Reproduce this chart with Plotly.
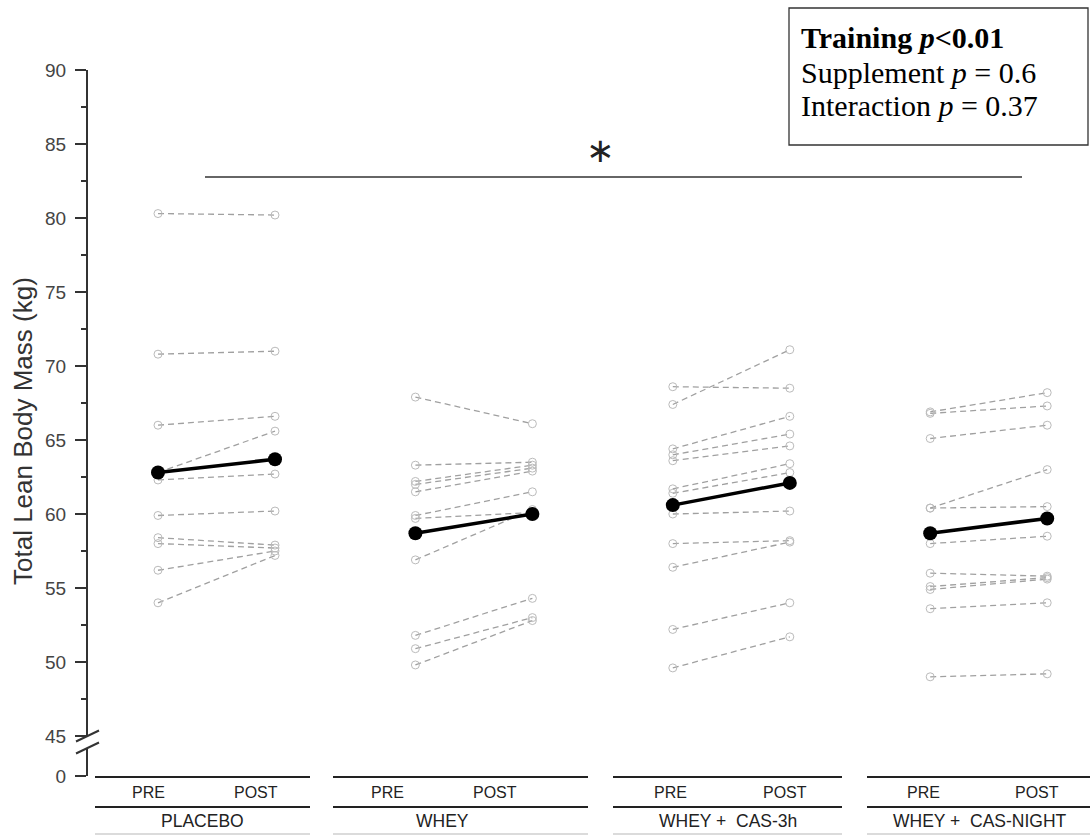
import plotly.graph_objects as go

# ---------------- data ----------------
groups = ["PLACEBO", "WHEY", "WHEY +  CAS-3h", "WHEY +  CAS-NIGHT"]
times = ["PRE", "POST"]

placebo_pre = [80.3, 70.8, 66.0, 62.8, 62.3, 59.9, 58.4, 58.0, 56.2, 54.0]
placebo_post = [80.2, 71.0, 66.6, 65.6, 62.7, 60.2, 57.9, 57.7, 57.5, 57.2]
whey_pre = [67.9, 63.3, 62.2, 62.0, 61.5, 59.9, 59.7, 56.9, 51.8, 50.9, 49.8]
whey_post = [66.1, 63.5, 63.3, 63.1, 62.9, 61.5, 60.1, 60.3, 54.3, 53.0, 52.8]
cas3h_pre = [67.4, 68.6, 64.4, 64.0, 63.6, 61.7, 61.4, 60.0, 58.0, 56.4, 52.2, 49.6]
cas3h_post = [71.1, 68.5, 66.6, 65.4, 64.6, 63.4, 62.8, 60.2, 58.2, 58.1, 54.0, 51.7]
casn_pre = [66.9, 66.8, 65.1, 60.4, 60.4, 58.0, 56.0, 55.1, 54.9, 53.6, 49.0]
casn_post = [68.2, 67.3, 66.0, 63.0, 60.5, 58.5, 55.8, 55.7, 55.6, 54.0, 49.2]

mean_pre = [62.8, 58.7, 60.6, 58.7]
mean_post = [63.7, 60.0, 62.1, 59.7]

ytick_values = [0, 45, 50, 55, 60, 65, 70, 75, 80, 85, 90]
ytick_labels = ["0", "45", "50", "55", "60", "65", "70", "75", "80", "85", "90"]
yminor_values = [47.5, 52.5, 57.5, 62.5, 67.5, 72.5, 77.5, 82.5, 87.5]

stats_lines = [
    "<b>Training <i>p</i>&lt;0.01</b>",
    "Supplement <i>p</i> = 0.6",
    "Interaction <i>p</i> = 0.37",
]

# ---------------- layout geometry ----------------
W, H = 1090, 836
ML = 87
PXK = 14.8          # pixels per kg
Y90_PX = 70         # pixel row of the 90 tick
X0_PX = 158         # pixel column of the first PRE
XU = 117            # pixels per x unit
GROUP_STEP = 2.2    # x units between groups
ZERO_POS = 45 - 40 / PXK  # broken axis: "0" drawn 40 px below 45


def y_of_px(py):
    return 90 - (py - Y90_PX) / PXK


def x_of_px(px):
    return (px - X0_PX) / XU


def xpaper(px):
    return (px - ML) / (W - ML)


def ypaper(py):
    return (H - py) / H


yr_top = y_of_px(0)
yr_bot = y_of_px(H)
xr = [x_of_px(ML), x_of_px(W)]

ind_pre = [placebo_pre, whey_pre, cas3h_pre, casn_pre]
ind_post = [placebo_post, whey_post, cas3h_post, casn_post]

fig = go.Figure()

for g in range(len(groups)):
    xp = g * GROUP_STEP
    xs, ys = [], []
    for a, b in zip(ind_pre[g], ind_post[g]):
        xs += [xp, xp + 1, None]
        ys += [a, b, None]
    fig.add_trace(go.Scatter(
        x=xs, y=ys, mode="lines+markers",
        line=dict(color="#a0a0a0", width=1.3, dash="6px,4px"),
        marker=dict(symbol="circle-open", size=8, color="#bbbbbb",
                    line=dict(width=1)),
        hoverinfo="skip", showlegend=False))

for g in range(len(groups)):
    xp = g * GROUP_STEP
    fig.add_trace(go.Scatter(
        x=[xp, xp + 1], y=[mean_pre[g], mean_post[g]],
        mode="lines+markers",
        line=dict(color="black", width=3.5),
        marker=dict(symbol="circle", size=14, color="black"),
        showlegend=False))

shapes = []
ax_col = "#333333"
# y axis line with break
shapes.append(dict(type="line", xref="paper", yref="y", x0=0, x1=0,
                   y0=90, y1=45, line=dict(color=ax_col, width=2)))
brk2 = y_of_px(748)
shapes.append(dict(type="line", xref="paper", yref="y", x0=0, x1=0,
                   y0=brk2, y1=ZERO_POS, line=dict(color=ax_col, width=2)))
for cy in [45, brk2]:
    d = 5.5 / PXK
    shapes.append(dict(type="line", xref="paper", yref="y",
                       x0=xpaper(76), x1=xpaper(99), y0=cy - d, y1=cy + d,
                       line=dict(color=ax_col, width=2)))

# category bars below the plot
group_bar_px = [(95, 310), (333, 588), (613, 842), (867, 1092)]
pre_label_px = [148, 387, 670, 923]
post_label_px = [256, 495, 785, 1037]
group_label_px = [202, 442, 728, 980]
for (a, b) in group_bar_px:
    for py, col, wd in [(777, "#222222", 2.2), (807, "#222222", 2.2), (834, "#cfcfcf", 1.5)]:
        shapes.append(dict(type="line", xref="x", yref="paper",
                           x0=x_of_px(a), x1=x_of_px(b), y0=ypaper(py), y1=ypaper(py),
                           line=dict(color=col, width=wd)))

# significance line
shapes.append(dict(type="line", xref="x", yref="y",
                   x0=x_of_px(205), x1=x_of_px(1022), y0=y_of_px(177), y1=y_of_px(177),
                   line=dict(color="#333333", width=1.5)))

# stats box
shapes.append(dict(type="rect", xref="paper", yref="paper",
                   x0=xpaper(789), x1=xpaper(1088), y0=ypaper(145), y1=ypaper(8),
                   line=dict(color="#333333", width=1.3), fillcolor="white"))

annotations = []
sans = "Liberation Sans, Arial, sans-serif"
serif = "Liberation Serif, Times New Roman, serif"
for g in range(len(groups)):
    annotations.append(dict(x=x_of_px(pre_label_px[g]), y=ypaper(792), xref="x", yref="paper",
                            text=times[0], showarrow=False, xanchor="center", yanchor="middle",
                            font=dict(family=sans, size=16, color="#222")))
    annotations.append(dict(x=x_of_px(post_label_px[g]), y=ypaper(792), xref="x", yref="paper",
                            text=times[1], showarrow=False, xanchor="center", yanchor="middle",
                            font=dict(family=sans, size=16, color="#222")))
    annotations.append(dict(x=x_of_px(group_label_px[g]), y=ypaper(821), xref="x", yref="paper",
                            text=groups[g], showarrow=False, xanchor="center", yanchor="middle",
                            font=dict(family=sans, size=17.5, color="#222")))

for i, (txt, py) in enumerate(zip(stats_lines, [38, 72, 105])):
    annotations.append(dict(x=xpaper(799), y=ypaper(py), xref="paper", yref="paper",
                            text=txt, showarrow=False, xanchor="left", yanchor="middle",
                            font=dict(family=serif, size=30, color="black")))

annotations.append(dict(x=x_of_px(600), y=y_of_px(150), xref="x", yref="y",
                        text="∗", showarrow=False, xanchor="center", yanchor="middle",
                        font=dict(family="DejaVu Sans", size=34, color="#222")))

annotations.append(dict(x=xpaper(23), y=y_of_px(431), xref="paper", yref="y",
                        text="Total Lean Body Mass (kg)", textangle=-90, showarrow=False,
                        xanchor="center", yanchor="middle",
                        font=dict(family=sans, size=26, color="#333")))

ytick_pos = [ZERO_POS if v == 0 else v for v in ytick_values]

fig.update_layout(
    width=W, height=H,
    margin=dict(l=ML, r=0, t=0, b=0, autoexpand=False),
    paper_bgcolor="white", plot_bgcolor="white",
    showlegend=False,
    xaxis=dict(range=xr, visible=False, fixedrange=True),
    yaxis=dict(range=[yr_bot, yr_top], showgrid=False, zeroline=False, showline=False,
               tickmode="array", tickvals=ytick_pos, ticktext=ytick_labels,
               ticks="outside", ticklen=11, tickwidth=2, tickcolor=ax_col,
               ticklabelstandoff=5,
               tickfont=dict(family=sans, size=19, color="#444"),
               minor=dict(tickmode="array", tickvals=yminor_values, ticks="outside",
                          ticklen=5, tickwidth=2, tickcolor=ax_col, showgrid=False),
               automargin=False, fixedrange=True),
    shapes=shapes,
    annotations=annotations,
)

fig.write_html("out.html", config={"displayModeBar": False},
               post_script="document.body.style.margin='0';document.body.style.overflow='hidden';")
